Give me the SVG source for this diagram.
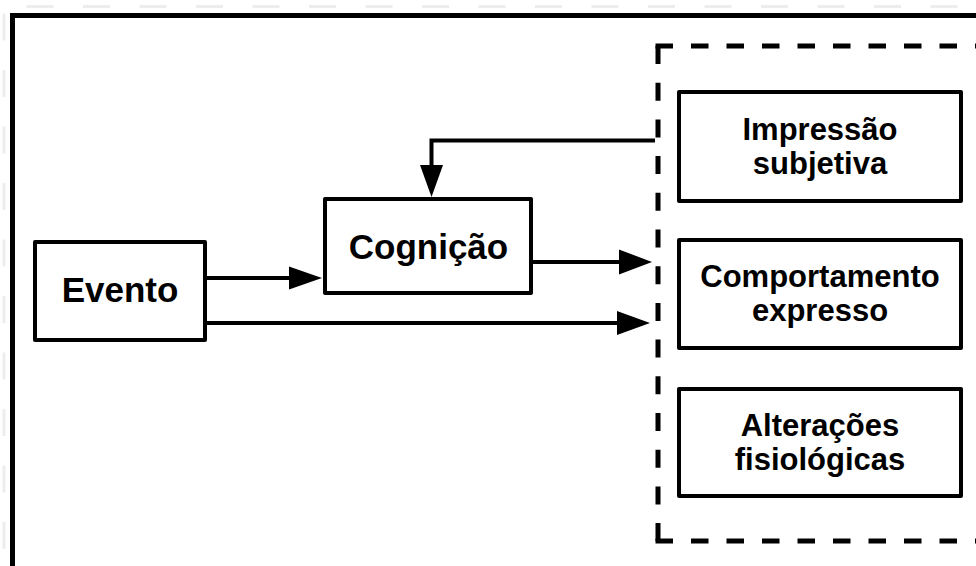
<svg xmlns="http://www.w3.org/2000/svg" width="976" height="566" viewBox="0 0 976 566">
  <style>
    .box { fill: #ffffff; stroke: #000000; stroke-width: 4; stroke-linejoin: round; }
    .lbl { font-family: "Liberation Sans", Arial, sans-serif; font-weight: bold; fill: #000000; text-anchor: middle; }
    .big { font-size: 35px; }
    .small { font-size: 31px; }
    .wire { fill: none; stroke: #000000; stroke-width: 4; }
    .head { fill: #000000; }
    .dash { fill: none; stroke: #000000; stroke-width: 5; }
  </style>

  <rect width="976" height="566" fill="#ffffff"/>

  <!-- faint outer dashed border -->
  <path d="M 4 580 L 4 6.5 L 990 6.5" fill="none" stroke="#ededed" stroke-width="3" stroke-dasharray="27 29.5" stroke-dashoffset="-31"/>

  <!-- main frame, open to the right and bottom -->
  <path d="M 12.5 580 L 12.5 15.5 L 990 15.5" fill="none" stroke="#000000" stroke-width="5"/>

  <!-- dashed group around the response components -->
  <g id="responses-group">
    <path class="dash" d="M 655.5 46 L 990 46" stroke-dasharray="17.5 18"/>
    <path class="dash" d="M 655.5 541 L 990 541" stroke-dasharray="17.5 18"/>
    <path class="dash" d="M 658 46 L 658 541" stroke-dasharray="18 18.7"/>
  </g>

  <g id="evento">
    <rect class="box" x="35" y="242" width="170" height="98"/>
    <text class="lbl big" x="120" y="302">Evento</text>
  </g>

  <g id="cognicao">
    <rect class="box" x="325" y="199" width="206" height="94"/>
    <text class="lbl big" x="428.5" y="259">Cognição</text>
  </g>

  <g id="impressao">
    <rect class="box" x="679" y="92" width="282" height="109"/>
    <text class="lbl small" x="820" y="140">Impressão</text>
    <text class="lbl small" x="820" y="174">subjetiva</text>
  </g>

  <g id="comportamento">
    <rect class="box" x="679" y="240" width="282" height="108"/>
    <text class="lbl small" x="820" y="287">Comportamento</text>
    <text class="lbl small" x="820" y="321">expresso</text>
  </g>

  <g id="alteracoes">
    <rect class="box" x="679" y="389" width="282" height="107"/>
    <text class="lbl small" x="820" y="436">Alterações</text>
    <text class="lbl small" x="820" y="470">fisiológicas</text>
  </g>

  <g id="connectors">
    <!-- Evento -> Cognição -->
    <line class="wire" x1="205" y1="278" x2="292" y2="278"/>
    <polygon class="head" points="322,278 289,266.5 289,289.5"/>

    <!-- Cognição -> response group -->
    <line class="wire" x1="531" y1="262" x2="622" y2="262"/>
    <polygon class="head" points="652,262 619,249.5 619,274.5"/>

    <!-- Evento -> response group -->
    <line class="wire" x1="205" y1="323" x2="620" y2="323"/>
    <polygon class="head" points="650,323 617,311 617,335"/>

    <!-- feedback: subjective impression -> Cognição -->
    <polyline class="wire" points="655,140.5 431.5,140.5 431.5,168"/>
    <polygon class="head" points="431.5,197 420,165 443,165"/>
  </g>
</svg>
